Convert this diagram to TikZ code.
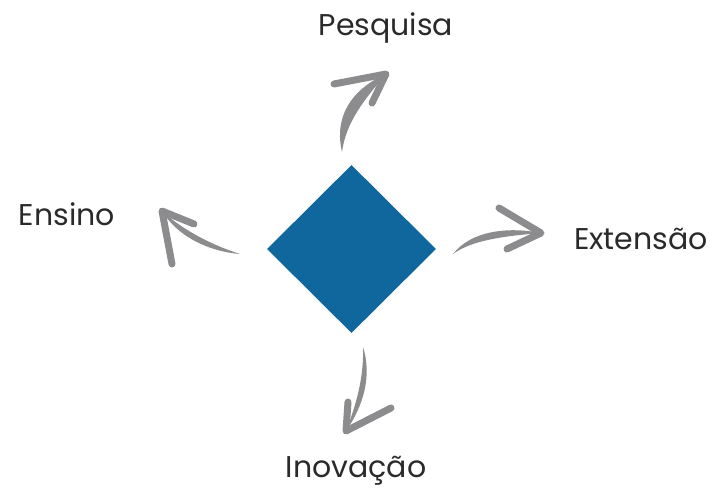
\documentclass[tikz,border=0pt]{standalone}
\usepackage{fontspec}
\setmainfont{Poppins}
\usetikzlibrary{shapes.geometric}
\definecolor{diamondblue}{HTML}{10679E}
\definecolor{brushgray}{HTML}{8C8C8E}
\definecolor{labelgray}{HTML}{2A2A2A}
\tikzset{
  lbl/.style={font=\fontsize{30}{36}\selectfont, text=labelgray, inner sep=0pt},
  shaft/.style={fill=brushgray},
  head/.style={draw=brushgray, line width=7pt, line join=round, line cap=round},
}
\begin{document}
\begin{tikzpicture}[x=1pt,y=-1pt]
  \useasboundingbox (0,0) rectangle (717,487);

  % centre piece
  \node[diamond, fill=diamondblue, minimum width=169pt, minimum height=168pt, inner sep=0pt] (core) at (351.5,249) {};

  % labels
  \node[lbl] (pesquisa) at (386,28) {Pesquisa};
  \node[lbl] (ensino) at (67,214) {Ensino};
  \node[lbl] (extensao) at (641,239) {Extensão};
  \node[lbl] (inovacao) at (356,471) {Inovação};

  % arrow ends
  \coordinate (upTail) at (342,152);
  \coordinate (upTip) at (386,74);
  \coordinate (rtTail) at (453,254);
  \coordinate (rtTip) at (541,233);
  \coordinate (lfTail) at (240,254);
  \coordinate (lfTip) at (162,211);
  \coordinate (dnTail) at (363,347);
  \coordinate (dnTip) at (346,431);

  % up, to Pesquisa
  \fill[shaft] (upTail) .. controls (334,118) and (350,90) .. (upTip)
    .. controls (364,100) and (346,122) .. (upTail);
  \draw[head] (334,84) -- (upTip) -- (372,103);

  % right, to Extensao
  \fill[shaft] (rtTail) .. controls (470,232) and (505,226) .. (rtTip)
    .. controls (505,236) and (472,240) .. (rtTail);
  \draw[head] (499,208) -- (rtTip) -- (507,249);

  % left, to Ensino
  \fill[shaft] (lfTail) .. controls (215,246) and (185,232) .. (lfTip)
    .. controls (180,240) and (214,252) .. (lfTail);
  \draw[head] (194,224) -- (lfTip) -- (172,264);

  % down, to Inovacao
  \fill[shaft] (dnTail) .. controls (372,375) and (364,405) .. (dnTip)
    .. controls (356,405) and (364,378) .. (dnTail);
  \draw[head] (348,402) -- (dnTip) -- (391,408);
\end{tikzpicture}
\end{document}
